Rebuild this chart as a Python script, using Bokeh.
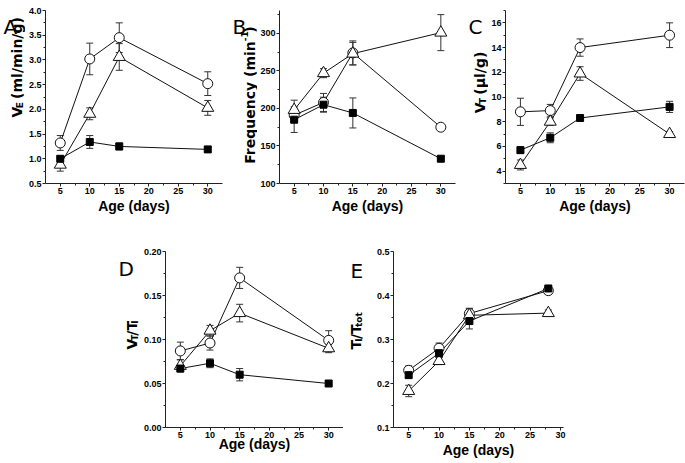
import numpy as np
from bokeh.plotting import figure
from bokeh.models import (ColumnDataSource, Whisker, TeeHead, FixedTicker, Range1d, Label)
from bokeh.layouts import row, column
from bokeh.embed import file_html
from bokeh.resources import INLINE

# ---------------- data ----------------
age = [5, 10, 15, 30]
age_e = [5, 10, 15, 28]

# A: minute ventilation (ml/min/g)
ve_circle = [1.32, 3.02, 3.45, 2.52]
ve_circle_err = [0.15, 0.32, 0.30, 0.24]
ve_tri = [0.88, 1.91, 3.06, 2.03]
ve_tri_err = [0.13, 0.12, 0.27, 0.15]
ve_sq = [1.00, 1.34, 1.25, 1.19]
ve_sq_err = [0.05, 0.13, 0.07, 0.05]

# B: frequency (min^-1)
f_circle = [191, 208, 274, 175]
f_circle_err = [8, 12, 16, 3]
f_tri = [198, 247, 273, 301]
f_tri_err = [13, 6, 15, 24]
f_sq = [185, 205, 194, 133]
f_sq_err = [17, 10, 20, 3]

# C: tidal volume (ul/g)
vt_circle = [8.8, 8.9, 14.0, 15.0]
vt_circle_err = [1.1, 0.5, 0.7, 1.0]
vt_tri = [4.5, 8.0, 11.9, 7.0]
vt_tri_err = [0.4, 0.3, 0.55, 0.2]
vt_sq = [5.7, 6.7, 8.3, 9.2]
vt_sq_err = [0.25, 0.4, 0.15, 0.45]

# D: VT/TI
vtti_circle = [0.087, 0.096, 0.170, 0.099]
vtti_circle_err = [0.010, 0.008, 0.012, 0.011]
vtti_tri = [0.070, 0.110, 0.130, 0.090]
vtti_tri_err = [0.007, 0.006, 0.010, 0.005]
vtti_sq = [0.067, 0.073, 0.060, 0.050]
vtti_sq_err = [0.003, 0.005, 0.007, 0.002]

# E: TI/Ttot
ti_circle = [0.230, 0.280, 0.359, 0.411]
ti_circle_err = [0.010, 0.012, 0.012, 0.008]
ti_tri = [0.183, 0.251, 0.355, 0.360]
ti_tri_err = [0.013, 0.008, 0.015, 0.007]
ti_sq = [0.219, 0.269, 0.342, 0.416]
ti_sq_err = [0.005, 0.010, 0.018, 0.005]

# ticks
x_ticks = [5, 10, 15, 20, 25, 30]
x_tick_labels = ["5", "10", "15", "20", "25", "30"]
a_ticks = [0.5, 1.0, 1.5, 2.0, 2.5, 3.0, 3.5, 4.0]
a_tick_labels = ["0.5", "1.0", "1.5", "2.0", "2.5", "3.0", "3.5", "4.0"]
b_ticks = [100, 150, 200, 250, 300]
b_tick_labels = ["100", "150", "200", "250", "300"]
c_ticks = [4, 6, 8, 10, 12, 14, 16]
c_tick_labels = ["4", "6", "8", "10", "12", "14", "16"]
d_ticks = [0.0, 0.05, 0.10, 0.15, 0.20]
d_tick_labels = ["0.00", "0.05", "0.10", "0.15", "0.20"]
e_ticks = [0.1, 0.2, 0.3, 0.4, 0.5]
e_tick_labels = ["0.1", "0.2", "0.3", "0.4", "0.5"]

x_title = "Age (days)"

FONT = "Liberation Sans"
LFONT = "DejaVu Sans"   # font of the annotation labels
INK = "#222222"

# DejaVu-Sans-Bold advance widths (per 1000 em) for placing label pieces
AW = {' ': 348, '(': 457, ')': 457, '/': 365, '-': 415, '1': 696, 'A': 774, 'E': 683,
      'F': 575, 'I': 372, 'T': 682, 'V': 774, 'a': 675, 'c': 593, 'd': 716, 'e': 678,
      'g': 716, 'i': 343, 'l': 343, 'm': 1042, 'n': 712, 'o': 687, 'q': 716, 'r': 493,
      's': 595, 't': 478, 'u': 712, 'y': 652, 'µ': 721}
WF = 1.1  # allowance for rendered width


def tw(s, size):
    return WF * sum(AW.get(c, 650) for c in s) / 1000.0 * size


def strip(width, height):
    s = figure(width=width, height=height, output_backend="svg", toolbar_location=None,
               min_border=0, x_range=Range1d(0, width), y_range=Range1d(0, height),
               x_axis_type=None, y_axis_type=None)
    s.outline_line_color = None
    s.xgrid.visible = False
    s.ygrid.visible = False
    return s


def put_text(s, x, y, text, size, bold=True, angle=0.0, align="left"):
    s.add_layout(Label(x=x, y=y, text=text, angle=angle, angle_units="rad",
                       text_font=LFONT, text_font_size=f"{size}px",
                       text_font_style="bold" if bold else "normal",
                       text_align=align, text_baseline="alphabetic",
                       text_color="black"))


def vlabel(s, x, y, pieces):
    # pieces: (text, size, baseline shift, anchor at "start" or "end" of the piece)
    pos = y
    for text, size, shift, anchor in pieces:
        while text.startswith(" "):
            pos += tw(" ", size)
            text = text[1:]
        w = tw(text, size)
        if anchor == "end":
            put_text(s, x + shift, pos + w, text, size, True, np.pi / 2, "right")
        else:
            put_text(s, x + shift, pos, text, size, True, np.pi / 2, "left")
        pos += w


def make_fig(width, height, mbl, mbr, mbt, mbb, xr, yr, yt, ylab, yminor, xl_standoff):
    p = figure(width=width, height=height, output_backend="svg", toolbar_location=None,
               min_border_left=mbl, min_border_right=mbr, min_border_top=mbt,
               min_border_bottom=mbb, x_range=Range1d(*xr), y_range=Range1d(*yr))
    p.outline_line_color = None
    p.xgrid.visible = False
    p.ygrid.visible = False
    p.background_fill_color = "white"
    p.xaxis.ticker = FixedTicker(ticks=x_ticks, minor_ticks=[7.5, 12.5, 17.5, 22.5, 27.5])
    p.xaxis.major_label_overrides = dict(zip(x_ticks, x_tick_labels))
    p.yaxis.ticker = FixedTicker(ticks=yt, minor_ticks=yminor)
    p.yaxis.major_label_overrides = dict(zip(yt, ylab))
    for ax in (p.xaxis[0], p.yaxis[0]):
        ax.axis_line_color = INK
        ax.major_tick_line_color = INK
        ax.minor_tick_line_color = INK
        ax.major_tick_out = 3
        ax.major_tick_in = 0
        ax.minor_tick_out = 2
        ax.minor_tick_in = 0
        ax.major_label_text_font = FONT
        ax.major_label_text_font_style = "bold"
        ax.major_label_text_font_size = "9px"
        ax.major_label_text_color = "black"
        ax.major_label_standoff = 1
    p.xaxis.axis_label = x_title
    p.xaxis.axis_label_text_font = FONT
    p.xaxis.axis_label_text_font_style = "bold"
    p.xaxis.axis_label_text_font_size = "14px"
    p.xaxis.axis_label_text_color = "black"
    p.xaxis.axis_label_standoff = xl_standoff
    return p


def draw_series(p, x, series):
    for vals, errs, kind in series:
        src = ColumnDataSource(dict(x=x, y=vals,
                                    lo=[v - e for v, e in zip(vals, errs)],
                                    hi=[v + e for v, e in zip(vals, errs)]))
        w = Whisker(source=src, base="x", upper="hi", lower="lo", dimension="height",
                    line_color="#333333", line_width=1,
                    upper_head=TeeHead(size=7, line_color="#333333", line_width=1),
                    lower_head=TeeHead(size=7, line_color="#333333", line_width=1))
        p.add_layout(w)
    for vals, errs, kind in series:
        p.line(x, vals, line_color="#111111", line_width=1)
    for vals, errs, kind in series:
        if kind == "circle":
            p.scatter(x, vals, marker="circle", size=10, fill_color="white",
                      line_color="#111111", line_width=1)
        elif kind == "triangle":
            p.scatter(x, vals, marker="triangle", size=12, fill_color="white",
                      line_color="#111111", line_width=1)
        else:
            p.scatter(x, vals, marker="square", size=7, fill_color="black",
                      line_color="black", line_width=1)


XR = (2.5, 32.5)
H1 = 225
H2 = 238
YS = 14   # y-label font size
SS = 9    # sub/superscript font size
LS = 20   # panel letter font size

# ---- A ----
sA = strip(25, H1)
put_text(sA, 3, 203, "A", LS, bold=False)
vlabel(sA, 16, 86, [("V", YS, 0, "start"), ("E", SS, 3, "start"),
                    (" (ml/min/g)", YS, 0, "start")])
pA = make_fig(203, H1, 18, 6, 10, 42, XR, (0.5, 4.0), a_ticks, a_tick_labels,
              [0.75, 1.25, 1.75, 2.25, 2.75, 3.25, 3.75], 1)
draw_series(pA, age, [(ve_circle, ve_circle_err, "circle"),
                      (ve_tri, ve_tri_err, "triangle"),
                      (ve_sq, ve_sq_err, "square")])

# ---- B ----
sB = strip(29, H1)
put_text(sB, 4, 203, "B", LS, bold=False)
vlabel(sB, 21, 185 - tw("Frequency (min", YS),
       [("Frequency (min", YS, 0, "end"), ("-1", SS, -5, "start"), (")", YS, 0, "start")])
pB = make_fig(203, H1, 19, 5, 10, 42, XR, (100, 330.5), b_ticks, b_tick_labels,
              [125, 175, 225, 275, 325], 1)
draw_series(pB, age, [(f_circle, f_circle_err, "circle"),
                      (f_tri, f_tri_err, "triangle"),
                      (f_sq, f_sq_err, "square")])

# ---- C ----
sC = strip(28, H1)
put_text(sC, 8, 203, "C", LS, bold=False)
vlabel(sC, 19, 91.5, [("V", YS, 0, "start"), ("T", SS, 3, "start"),
                      (" (µl/g)", YS, 0, "start")])
pC = make_fig(197, H1, 16, 1, 10, 42, XR, (3, 17), c_ticks, c_tick_labels,
              [3, 5, 7, 9, 11, 13, 15, 17], 1)
draw_series(pC, age, [(vt_circle, vt_circle_err, "circle"),
                      (vt_tri, vt_tri_err, "triangle"),
                      (vt_sq, vt_sq_err, "square")])

# ---- D ----
sD = strip(140, H2)
put_text(sD, 118, 215, "D", LS, bold=False)
vlabel(sD, 131, 105.5, [("V", YS, 0, "start"), ("T", SS, 3, "start"),
                        ("/T", YS, 0, "start"), ("I", SS, 3, "start")])
pD = make_fig(203, H2, 22, 0, 26, 36, XR, (0.0, 0.20), d_ticks, d_tick_labels,
              [0.025, 0.075, 0.125, 0.175], -5)
draw_series(pD, age, [(vtti_circle, vtti_circle_err, "circle"),
                      (vtti_tri, vtti_tri_err, "triangle"),
                      (vtti_sq, vtti_sq_err, "square")])

# ---- E ----
sE = strip(23, H2)
put_text(sE, 7, 212, "E", LS, bold=False)
vlabel(sE, 12.5, 105.5, [("T", YS, 0, "start"), ("I", SS, 3, "start"),
                         ("/T", YS, 0, "start"), ("tot", SS, 3, "start")])
pE = make_fig(204, H2, 27, 7, 16, 35, (2.5, 30.5), (0.1, 0.5), e_ticks, e_tick_labels,
              [0.15, 0.25, 0.35, 0.45], 1)
draw_series(pE, age_e, [(ti_circle, ti_circle_err, "circle"),
                        (ti_tri, ti_tri_err, "triangle"),
                        (ti_sq, ti_sq_err, "square")])

layout = column(row(sA, pA, sB, pB, sC, pC), row(sD, pD, sE, pE))

with open("out.html", "w") as f:
    f.write(file_html(layout, INLINE))
